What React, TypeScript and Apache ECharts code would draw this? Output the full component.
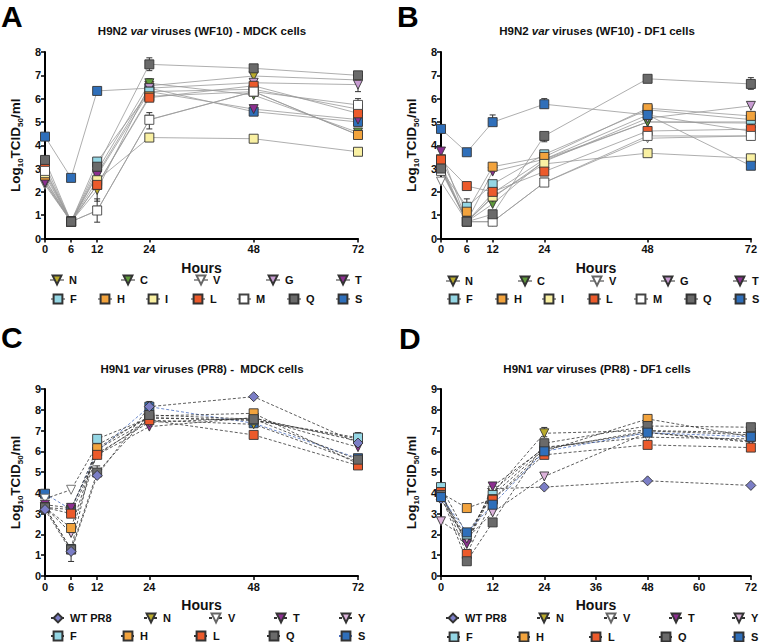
import React, { useEffect, useRef } from "react";
import * as echarts from "echarts";

// ---------- data ----------
const HOURS = [0, 6, 12, 24, 48, 72];

// Panel A: H9N2 var viruses (WF10) - MDCK cells
const A_N = [2.5, 0.72, 2.08, 6.55, 6.97, 6.8];
const A_C = [2.55, 0.72, 2.9, 6.66, 6.15, 4.55];
const A_V = [2.3, 0.72, 1.2, 5.1, 6.3, 4.45];
const A_G = [2.38, 0.72, 2.77, 6.45, 6.68, 6.6];
const A_T = [2.4, 0.72, 2.7, 6.3, 5.55, 5.1];
const A_F = [2.98, 0.72, 3.3, 6.3, 6.4, 5.55];
const A_H = [2.7, 0.72, 2.3, 6.1, 6.3, 4.44];
const A_I = [2.8, 0.72, 2.5, 4.33, 4.28, 3.72];
const A_L = [3.15, 0.72, 2.3, 6.04, 6.55, 5.37];
const A_M = [2.9, 0.72, 1.2, 5.09, 6.3, 5.73];
const A_Q = [3.37, 0.72, 3.08, 7.47, 7.3, 7.0];
const A_S = [4.37, 2.6, 6.33, 6.45, 5.44, 5.0];

// Panel B: H9N2 var viruses (WF10) - DF1 cells
const B_N = [3.2, 0.72, 1.94, 3.4, 5.0, 5.0];
const B_C = [3.0, 0.72, 1.48, 3.35, 5.0, 4.95];
const B_V = [2.44, 0.72, 0.72, 2.4, 4.3, 4.4];
const B_G = [3.08, 0.72, 1.75, 3.3, 5.16, 5.69];
const B_T = [3.73, 0.72, 2.87, 3.4, 5.3, 4.6];
const B_F = [2.95, 1.36, 2.33, 3.61, 5.52, 5.1];
const B_H = [3.4, 1.15, 3.08, 3.5, 5.59, 5.26];
const B_I = [3.0, 0.72, 1.8, 3.2, 3.66, 3.44];
const B_L = [3.38, 2.25, 2.0, 2.87, 4.61, 4.69];
const B_M = [2.9, 0.72, 0.72, 2.4, 4.4, 4.4];
const B_Q = [3.0, 0.72, 1.04, 4.4, 6.85, 6.63];
const B_S = [4.7, 3.7, 4.99, 5.76, 5.3, 3.12];

// Panel C: H9N1 var viruses (PR8) - MDCK cells
const C_WT = [3.2, 1.18, 4.84, 8.15, 8.63, 6.4];
const C_N = [3.3, 3.2, 6.1, 7.5, 7.3, 5.5];
const C_V = [3.72, 4.15, 6.31, 7.62, 7.5, 6.6];
const C_T = [3.43, 3.28, 5.83, 7.19, 7.62, 6.2];
const C_Y = [3.3, 2.07, 5.9, 7.4, 7.6, 6.5];
const C_F = [3.3, 1.3, 6.6, 7.6, 7.5, 6.66];
const C_H = [3.3, 2.31, 6.15, 7.7, 7.83, 5.4];
const C_L = [3.3, 3.0, 5.83, 7.5, 6.79, 5.32];
const C_Q = [3.3, 1.27, 4.98, 7.75, 7.55, 5.6];
const C_S = [3.96, 3.2, 6.0, 8.15, 7.35, 5.67];

// Panel D: H9N1 var viruses (PR8) - DF1 cells
const D_WT = [3.7, 1.7, 4.2, 4.28, 4.58, 4.36];
const D_N = [4.0, 1.6, 4.0, 6.87, 7.0, 6.9];
const D_V = [3.9, 1.8, 4.1, 6.2, 6.68, 6.6];
const D_T = [3.9, 1.54, 4.31, 6.15, 6.9, 6.44];
const D_Y = [2.63, 1.8, 3.06, 4.79, 6.9, 6.5];
const D_F = [4.28, 2.0, 3.9, 6.1, 6.98, 6.8];
const D_H = [4.0, 3.27, 3.7, 6.0, 7.56, 6.7];
const D_L = [4.04, 1.06, 3.67, 5.83, 6.31, 6.18];
const D_Q = [3.9, 0.71, 2.58, 6.39, 7.22, 7.16];
const D_S = [3.8, 2.1, 3.43, 6.0, 6.9, 6.7];

// error bars: [hour, low, high]
const A_ERR = [[24, 7.2, 7.75], [12, 0.7, 1.7], [12, 1.6, 2.4], [24, 4.7, 5.4], [72, 6.3, 6.9], [72, 5.5, 6.0], [6, 2.45, 2.75], [12, 3.2, 3.45], [24, 6.5, 6.85]];
const B_ERR = [[12, 4.85, 5.3], [24, 5.6, 6.0], [6, 1.15, 1.7], [72, 6.4, 6.9], [24, 4.15, 4.5]];
const C_ERR = [[6, 0.7, 1.5], [24, 7.9, 8.4], [72, 6.5, 6.9], [12, 4.9, 5.3]];
const D_ERR = [[24, 6.7, 7.15]];

const TICKS_ABC = [0, 6, 12, 24, 48, 72];

const TITLES = [
  ["H9N2 ", "var", " viruses (WF10) - MDCK cells"],
  ["H9N2 ", "var", " viruses (WF10) - DF1 cells"],
  ["H9N1 ", "var", " viruses (PR8) -  MDCK cells"],
  ["H9N1 ", "var", " viruses (PR8) - DF1 cells"],
];
const LETTERS = ["A", "B", "C", "D"];

// ---------- styles ----------
const STYLE: Record<string, { color: string; symbol: string; rotate: number; border?: string }> = {
  N: { color: "#b9aa2b", symbol: "triangle", rotate: 180 },
  C: { color: "#5f9b3b", symbol: "triangle", rotate: 180 },
  V: { color: "#ffffff", symbol: "triangle", rotate: 180, border: "#666" },
  G: { color: "#c89cd2", symbol: "triangle", rotate: 180 },
  T: { color: "#8c2f90", symbol: "triangle", rotate: 180 },
  Y: { color: "#dcb3da", symbol: "triangle", rotate: 180 },
  F: { color: "#94d6e4", symbol: "rect", rotate: 0 },
  H: { color: "#f2a33d", symbol: "rect", rotate: 0 },
  I: { color: "#f9f0a2", symbol: "rect", rotate: 0 },
  L: { color: "#ec5a2b", symbol: "rect", rotate: 0 },
  M: { color: "#ffffff", symbol: "rect", rotate: 0, border: "#444" },
  Q: { color: "#6a6a6a", symbol: "rect", rotate: 0 },
  S: { color: "#2f6fba", symbol: "rect", rotate: 0 },
  "WT PR8": { color: "#7b7ec6", symbol: "diamond", rotate: 0 },
};

const GRIDS = [
  { left: 45, top: 52, width: 313, height: 186.5 },
  { left: 441, top: 52, width: 314, height: 186.5 },
  { left: 45, top: 389, width: 313, height: 187 },
  { left: 441, top: 389, width: 312, height: 187 },
];

// drawing order (legend order is set separately below)
const PANEL_SERIES: [string, number[]][][] = [
  [["S", A_S], ["N", A_N], ["C", A_C], ["V", A_V], ["G", A_G], ["T", A_T], ["F", A_F], ["H", A_H], ["I", A_I], ["L", A_L], ["M", A_M], ["Q", A_Q]],
  [["N", B_N], ["C", B_C], ["V", B_V], ["G", B_G], ["T", B_T], ["F", B_F], ["H", B_H], ["I", B_I], ["L", B_L], ["M", B_M], ["Q", B_Q], ["S", B_S]],
  [["S", C_S], ["N", C_N], ["V", C_V], ["T", C_T], ["Y", C_Y], ["F", C_F], ["H", C_H], ["L", C_L], ["Q", C_Q], ["WT PR8", C_WT]],
  [["WT PR8", D_WT], ["N", D_N], ["V", D_V], ["T", D_T], ["Y", D_Y], ["F", D_F], ["H", D_H], ["L", D_L], ["Q", D_Q], ["S", D_S]],
];
const PANEL_ERR = [A_ERR, B_ERR, C_ERR, D_ERR];

// legend layout: [panel, name, iconCenterX, centerY]
const LEGEND_LAYOUT: [number, string, number, number][] = [
  [0, "N", 56, 280], [0, "C", 127, 280], [0, "V", 200, 280], [0, "G", 272, 280], [0, "T", 342, 280],
  [0, "F", 57, 299], [0, "H", 104, 299], [0, "I", 152, 299], [0, "L", 197, 299], [0, "M", 243, 299], [0, "Q", 293, 299], [0, "S", 342, 299],
  [1, "N", 452, 281], [1, "C", 524, 281], [1, "V", 596, 281], [1, "G", 667, 281], [1, "T", 739, 281],
  [1, "F", 453, 299], [1, "H", 501, 299], [1, "I", 548, 299], [1, "L", 593, 299], [1, "M", 640, 299], [1, "Q", 690, 299], [1, "S", 739, 299],
  [2, "WT PR8", 57, 618], [2, "N", 150, 618], [2, "V", 215, 618], [2, "T", 280, 618], [2, "Y", 345, 618],
  [2, "F", 57, 636], [2, "H", 127, 636], [2, "L", 200, 636], [2, "Q", 273, 636], [2, "S", 345, 636],
  [3, "WT PR8", 452, 618], [3, "N", 543, 618], [3, "V", 610, 618], [3, "T", 675, 618], [3, "Y", 738, 618],
  [3, "F", 453, 637], [3, "H", 523, 637], [3, "L", 595, 637], [3, "Q", 665, 637], [3, "S", 738, 637],
];

const FONT = "Liberation Sans, Arial, sans-serif";

function buildOption() {
  const series: any[] = [];
  PANEL_ERR.forEach((err, p) => {
    series.push({
      type: "custom",
      xAxisIndex: p,
      yAxisIndex: p,
      data: err,
      z: 1,
      silent: true,
      renderItem: (params: any, api: any) => {
        const x = api.value(0);
        const lo = api.coord([x, api.value(1)]);
        const hi = api.coord([x, api.value(2)]);
        const w = 3;
        const style = { stroke: "#333", lineWidth: 1 };
        return {
          type: "group",
          children: [
            { type: "line", shape: { x1: lo[0], y1: lo[1], x2: hi[0], y2: hi[1] }, style },
            { type: "line", shape: { x1: lo[0] - w, y1: lo[1], x2: lo[0] + w, y2: lo[1] }, style },
            { type: "line", shape: { x1: hi[0] - w, y1: hi[1], x2: hi[0] + w, y2: hi[1] }, style },
          ],
        };
      },
    });
  });
  PANEL_SERIES.forEach((list, p) => {
    const dashed = p >= 2;
    list.forEach(([key, vals]) => {
      const st = STYLE[key];
      series.push({
        type: "line",
        name: `${p}:${key}`,
        xAxisIndex: p,
        yAxisIndex: p,
        z: 2,
        data: HOURS.map((h, i) => [h, vals[i]]),
        symbol: st.symbol,
        symbolSize: st.symbol === "diamond" ? 10 : 9,
        symbolRotate: st.rotate,
        showAllSymbol: true,
        itemStyle: { color: st.color, borderColor: st.border || "#333", borderWidth: 0.9 },
        lineStyle: dashed
          ? { color: key === "S" ? "#4a6fc0" : "#333", width: 0.8, type: [3, 2] }
          : { color: "#999", width: 0.8 },
        emphasis: { disabled: true },
      });
    });
  });

  const xAxis = GRIDS.map((_, p) => {
    const custom = p < 3 ? { customValues: TICKS_ABC } : {};
    return {
      type: "value",
      gridIndex: p,
      min: 0,
      max: 72,
      interval: p < 3 ? 6 : 12,
      name: "Hours",
      nameLocation: "middle",
      nameGap: 22,
      nameTextStyle: { fontFamily: FONT, fontWeight: "bold", fontSize: 14, color: "#111" },
      axisLine: { show: true, lineStyle: { color: "#000", width: 2 } },
      axisTick: { show: true, length: 4, lineStyle: { color: "#000", width: 1.5 }, ...custom },
      axisLabel: { fontFamily: FONT, fontWeight: "bold", fontSize: 11, color: "#111", margin: 5, ...custom },
      splitLine: { show: false },
    };
  });

  const yAxis = GRIDS.map((_, p) => ({
    type: "value",
    gridIndex: p,
    min: 0,
    max: p < 2 ? 8 : 9,
    interval: 1,
    name: "{b|Log}{s|10}{b|TCID}{s|50}{b|/ml}",
    nameLocation: "middle",
    nameRotate: 90,
    nameGap: 21,
    nameTextStyle: {
      rich: {
        b: { fontFamily: FONT, fontWeight: "bold", fontSize: 13.5, color: "#111", lineHeight: 17, verticalAlign: "middle" },
        s: { fontFamily: FONT, fontWeight: "bold", fontSize: 8, color: "#111", lineHeight: 7, verticalAlign: "bottom" },
      },
    },
    axisLine: { show: true, lineStyle: { color: "#000", width: 2 } },
    axisTick: { show: true, length: 4, lineStyle: { color: "#000", width: 1.5 } },
    axisLabel: { fontFamily: FONT, fontWeight: "bold", fontSize: 11, color: "#111", margin: 4 },
    splitLine: { show: false },
  }));

  const legend = LEGEND_LAYOUT.map(([p, name, cx, cy]) => ({
    data: [`${p}:${name}`],
    left: cx - 7,
    top: cy - 5.5,
    padding: 0,
    itemWidth: 14,
    itemHeight: 11,
    itemGap: 0,
    selectedMode: false,
    formatter: (n: string) => n.split(":")[1],
    textStyle: { fontFamily: FONT, fontWeight: "bold", fontSize: 11, color: "#111" },
  }));

  const graphic: any[] = [];
  const centers = [[202, 31], [597, 31], [202, 369], [597, 369]];
  const letterPos = [[1, 16], [397, 16], [1, 337], [399, 338]];
  TITLES.forEach((t, p) => {
    graphic.push({
      type: "text",
      x: centers[p][0],
      y: centers[p][1],
      style: {
        text: `{b|${t[0]}}{i|${t[1]}}{b|${t[2]}}`,
        align: "center",
        verticalAlign: "middle",
        rich: {
          b: { fontFamily: FONT, fontWeight: "bold", fontSize: 11.5, fill: "#111" },
          i: { fontFamily: FONT, fontWeight: "bold", fontStyle: "italic", fontSize: 11.5, fill: "#111" },
        },
      },
    });
    graphic.push({
      type: "text",
      x: letterPos[p][0],
      y: letterPos[p][1],
      style: {
        text: LETTERS[p],
        fontFamily: FONT,
        fontWeight: "bold",
        fontSize: 30,
        fill: "#000",
        align: "left",
        verticalAlign: "middle",
      },
    });
  });

  return {
    animation: false,
    backgroundColor: "#fff",
    grid: GRIDS.map((g) => ({ ...g, containLabel: false })),
    xAxis,
    yAxis,
    legend,
    series,
    graphic,
  };
}

export default function App() {
  const ref = useRef<HTMLDivElement>(null);
  useEffect(() => {
    if (!ref.current) return;
    const chart = echarts.init(ref.current, null, { renderer: "svg" });
    chart.setOption(buildOption() as any);
    return () => chart.dispose();
  }, []);
  return (
    <div
      ref={ref}
      style={{ position: "fixed", left: 0, top: 0, width: 760, height: 642, background: "#fff" }}
    />
  );
}
